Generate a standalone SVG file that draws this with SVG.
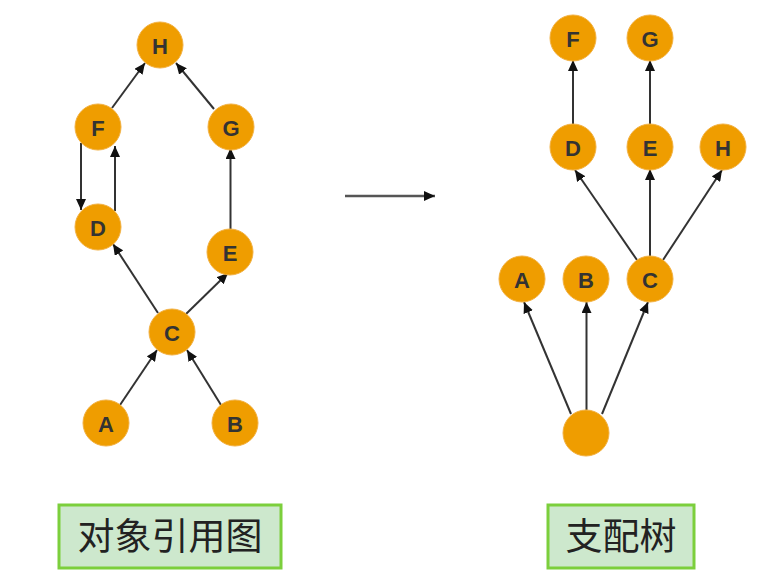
<svg xmlns="http://www.w3.org/2000/svg" width="757" height="583" viewBox="0 0 757 583">
<style>
.n circle{fill:#EF9D00;stroke:#F2B040;stroke-width:1}
.n text{font-family:"Liberation Sans",Arial,sans-serif;font-weight:bold;font-size:22px;fill:#333;text-anchor:middle;dominant-baseline:central}
.e line{stroke:#333;stroke-width:2;marker-end:url(#ah)}
.lbl rect{fill:#CDE8CD;stroke:#7CCF3C;stroke-width:3}
.lbl text{font-family:"Liberation Sans","Noto Sans CJK SC",sans-serif;font-size:37px;fill:#222;text-anchor:middle}
</style>
<defs>
<marker id="ah" markerUnits="userSpaceOnUse" markerWidth="12" markerHeight="10" refX="11" refY="5" orient="auto">
<path d="M0,0 L11,5 L0,10 Z" fill="#111"/>
</marker>
</defs>
<rect width="757" height="583" fill="#fff"/>
<g id="connectors" class="e">
<line x1="112" y1="108" x2="145" y2="63"/>
<line x1="214" y1="109" x2="176" y2="63"/>
<line x1="81" y1="143" x2="81" y2="210"/>
<line x1="115" y1="211" x2="115" y2="146"/>
<line x1="230.5" y1="229" x2="230.5" y2="148"/>
<line x1="158" y1="313" x2="113" y2="244"/>
<line x1="186" y1="314" x2="228" y2="273"/>
<line x1="120" y1="405" x2="157" y2="350"/>
<line x1="221" y1="405" x2="187" y2="350"/>
<line x1="573" y1="124" x2="573" y2="60"/>
<line x1="650" y1="124" x2="650" y2="60"/>
<line x1="637" y1="260" x2="575" y2="170"/>
<line x1="650" y1="256" x2="650" y2="169"/>
<line x1="663" y1="260" x2="722" y2="170"/>
<line x1="571" y1="414" x2="524" y2="302"/>
<line x1="586.5" y1="410" x2="586.5" y2="302"/>
<line x1="602" y1="414" x2="648" y2="302"/>
<line x1="345" y1="196" x2="435" y2="196" style="stroke:#555;stroke-width:2.5"/>
</g>
<g id="L_H" class="n"><circle cx="160" cy="45" r="23"/><text x="160" y="46">H</text></g>
<g id="L_F" class="n"><circle cx="98" cy="127" r="23"/><text x="98" y="128">F</text></g>
<g id="L_G" class="n"><circle cx="231" cy="127" r="23"/><text x="231" y="128">G</text></g>
<g id="L_D" class="n"><circle cx="98" cy="227" r="23"/><text x="98" y="228">D</text></g>
<g id="L_E" class="n"><circle cx="230" cy="252" r="23"/><text x="230" y="253">E</text></g>
<g id="L_C" class="n"><circle cx="172" cy="332" r="23"/><text x="172" y="333">C</text></g>
<g id="L_A" class="n"><circle cx="106" cy="423" r="23"/><text x="106" y="424">A</text></g>
<g id="L_B" class="n"><circle cx="235" cy="423" r="23"/><text x="235" y="424">B</text></g>
<g id="R_F" class="n"><circle cx="573" cy="38" r="23"/><text x="573" y="39">F</text></g>
<g id="R_G" class="n"><circle cx="650" cy="38" r="23"/><text x="650" y="39">G</text></g>
<g id="R_D" class="n"><circle cx="573" cy="147" r="23"/><text x="573" y="148">D</text></g>
<g id="R_E" class="n"><circle cx="650" cy="147" r="23"/><text x="650" y="148">E</text></g>
<g id="R_H" class="n"><circle cx="723" cy="147" r="23"/><text x="723" y="148">H</text></g>
<g id="R_A" class="n"><circle cx="522" cy="279" r="23"/><text x="522" y="280">A</text></g>
<g id="R_B" class="n"><circle cx="586" cy="279" r="23"/><text x="586" y="280">B</text></g>
<g id="R_C" class="n"><circle cx="650" cy="279" r="23"/><text x="650" y="280">C</text></g>
<g id="R_root" class="n"><circle cx="586" cy="433" r="23"/></g>
<g id="label_left" class="lbl"><rect x="59" y="505" width="222" height="63"/><text x="170" y="550">对象引用图</text></g>
<g id="label_right" class="lbl"><rect x="548" y="505" width="146" height="63"/><text x="621" y="550">支配树</text></g>
</svg>
